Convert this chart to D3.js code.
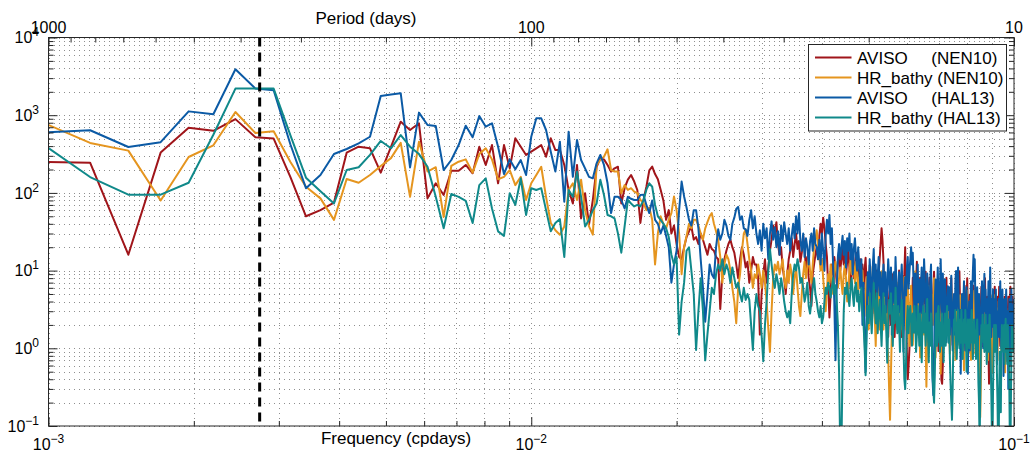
<!DOCTYPE html>
<html>
<head>
<meta charset="utf-8">
<script src="https://cdn.jsdelivr.net/npm/d3@7"></script>
<style>
  body { margin: 0; background: #fff; }
  svg { display: block; font-family: "Liberation Sans", Arial, Helvetica, sans-serif; }
</style>
</head>
<body>
<svg id="chart" width="1032" height="454"></svg>
<script>
// Frequency grid of the spectra: bin k has frequency k / recordDays (cycles per day)
const recordDays = 4100;
const firstBin = 4;

// Power spectral density, one value per frequency bin (k = 4 ... 410)
const avisoNEN10 = [
  250, 245, 16, 330, 690, 630, 890, 520, 500, 160, 50, 60, 75, 329, 393, 375, 182, 390, 824,
  645, 787, 85, 133, 94, 193, 193, 229, 179, 393, 229, 413, 133, 413, 207, 505, 393,
  308, 339, 375, 413, 292, 505, 356, 356, 229, 109, 73, 229, 47, 99, 39, 81, 217, 279, 270, 229, 188, 207, 217, 73, 115, 148, 170, 140, 109, 41,
  80, 120, 195, 218, 175, 150, 110, 80, 45, 60, 30, 38, 22, 15, 14, 20, 27, 32, 37, 25,
  27, 22, 30, 25, 20, 16, 22, 19, 18, 15, 14, 3.2, 9, 14, 18, 22, 25, 20, 17, 12, 8, 14, 20, 16, 11, 13, 7, 10, 15, 12,
  12, 8, 1.5, 5, 9, 14, 7, 11, 18, 25, 38, 30, 42, 22, 16, 20, 11, 8, 5, 9, 14, 18, 26, 15, 22, 30, 19, 24, 13, 17, 28, 20, 10, 15, 8, 6, 3.5, 9, 12, 16,
  20, 14, 28, 40, 30, 48, 35, 22, 15, 6, 2.5, 5, 12, 9, 15, 11, 7, 13, 18, 10, 14, 20, 12, 16, 9, 13, 19, 11, 6, 10, 15, 8, 12, 17, 10, 7, 11, 14, 9, 12,
  5.5, 10, 14.6, 6.6, 2.8, 5.5, 11.7, 4.5, 2, 3.6, 7.7, 2.8, 5.5, 10, 4.5, 9, 14, 22, 35, 24, 13, 4.5, 7.7, 2.8, 5.5, 1.4, 3.6, 6.6, 2, 4.5, 9, 2.8, 1.4, 3.6, 6.6, 2, 4.5, 10, 5.5, 2.8, 1.4, 3.6, 7.7, 9, 20, 4.5, 0.85, 0.4, 0.6, 1,
  2, 5.3, 3, 8.1, 4, 1.6, 3, 6.6, 13, 5.3, 2, 4, 8.1, 3, 1.25, 4, 6.6, 2.5, 5.3, 9.7, 3, 1.25, 2.5, 5.3, 8.1, 3, 1.6, 4, 2, 5.3, 9.7, 4, 2, 3.5, 6.6, 2, 0.92, 3, 5.3, 2, 0.39, 0.35, 0.63, 3, 5.3, 2, 4, 8.1, 3, 2,
  2.5, 4.9, 1.5, 3.6, 8, 2.5, 1.1, 2.5, 4.9, 2, 3.6, 6.4, 2.5, 1.1, 2.5, 4.9, 9.8, 3.6, 1.5, 3, 4.9, 1.5, 0.76, 2.5, 6.4, 2.5, 1.5, 3.6, 8, 2.5, 1.1, 2.5, 4.9, 1.5, 3.6, 0.76, 1.5, 3.6, 6.4, 2.5, 1.5, 4.9, 2.5, 1.1, 2.5, 4.9, 1.5, 3.6, 2, 0.76,
  3.2, 6.2, 2, 1.07, 3.2, 4.6, 2, 8, 3.2, 1.5, 2.6, 4.6, 2, 0.9, 0.35, 0.4, 0.68, 2, 3.9, 2, 4.6, 2.6, 1.07, 3.2, 6.2, 2, 1.5, 3.2, 2, 4.6, 1.5, 2.6, 6.2, 2, 1.07, 3.2, 4.6, 1.5, 2.6, 1.07, 3.2, 2, 4.6, 1.5, 0.68, 2, 3.2, 1.07, 2.6, 4.6, 2, 1.07, 3.2, 6.2, 2, 1.07, 3.2, 4.6, 2, 3.2, 4
];

const hrBathyNEN10 = [
  800, 440, 350, 80, 290, 410, 1100, 590, 620, 250, 120, 85, 45, 151, 135, 170, 222, 280, 440,
  89, 456, 188, 214, 49, 222, 252, 270, 182, 316, 375, 270, 150, 161, 197, 126, 161,
  81, 133, 170, 217, 89, 41, 33, 29, 37, 109, 133, 81, 148, 60, 37, 29, 229, 265, 292, 364, 197, 188, 188, 99, 126, 109, 115, 104, 99, 81,
  75, 60, 65, 45, 12, 30, 50, 40, 35, 45, 55, 90, 60, 30, 9, 20, 28, 40, 35, 45,
  45, 38, 30, 25, 35, 42, 50, 55, 40, 32, 25, 15, 7, 12, 16, 14, 10, 6, 4, 2.1, 6, 9, 18, 30, 34, 22, 14, 10, 6, 9,
  8, 12, 9, 6, 10, 7, 4, 1.8, 0.9, 3, 8, 12, 10, 13, 9, 11, 14, 8, 6, 10, 7, 12, 9, 5, 8, 11, 6, 3.5, 2.6, 5, 9, 13, 8, 11, 16, 10, 7, 12, 20, 25,
  33, 22, 15, 10, 14, 8, 5, 3, 6, 9, 7, 12, 8, 5, 10, 13, 9, 6, 8, 11, 7, 5, 9, 12, 8, 4, 6, 10, 14, 9, 16, 11, 7, 13, 9, 5, 8, 11, 7, 10,
  5.7, 2.6, 4.5, 8.3, 3.5, 1.75, 4.5, 7, 2.6, 11.3, 5.7, 2.6, 1.07, 3.5, 7, 4.5, 1.75, 5.7, 9.8, 3.5, 1.75, 4.5, 2.6, 5.7, 1.07, 0.8, 0.3, 0.12, 0.5, 1.75, 5.7, 3.5, 8.3, 2.6, 4.5, 1.75, 7, 3.5, 1.4, 2.6, 5.7, 1.75, 3.5, 8.3, 4.5, 1.75, 3.5, 7, 2.6, 1.07,
  3.6, 6.4, 2.5, 1.1, 2.5, 4.9, 9.8, 3.6, 1.5, 3, 6.4, 2.5, 0.76, 2, 3.6, 8, 3, 1.5, 3.6, 1.1, 0.32, 1.5, 3.6, 6.4, 2.5, 1.1, 2.5, 4.9, 2, 3.6, 8, 2.5, 0.76, 2, 4.2, 1.5, 3, 6.4, 2.5, 0.47, 1.5, 3.6, 2, 4.9, 2.5, 1.1, 2, 3.6, 1.5, 2.5,
  4, 1.7, 0.85, 2.2, 5.5, 2.8, 1.24, 2.2, 4, 1.7, 0.71, 1.7, 3.4, 5.5, 2.2, 1.24, 2.8, 4.8, 1.7, 0.85, 2.2, 4, 1.7, 0.52, 1.7, 3.4, 1.24, 2.2, 5.5, 1.7, 0.85, 2.8, 4, 1.7, 0.71, 1.7, 2.8, 1.24, 3.4, 5.5, 2.2, 0.85, 1.7, 3.4, 1.24, 2.2, 4, 0.85, 0.4, 0.13,
  0.36, 1.6, 3.3, 2.1, 1.1, 2.7, 4.8, 2.1, 1.1, 2.1, 4, 1.6, 0.7, 2.1, 3.3, 1.6, 2.7, 4.8, 2.1, 1.1, 0.49, 1.6, 2.7, 4.8, 2.1, 1.1, 2.1, 4, 1.6, 0.7, 2.1, 3.3, 1.6, 2.7, 4.8, 2.1, 0.93, 1.6, 3.3, 2.1, 1.1, 2.7, 1.6, 0.49, 1.6, 3.3, 2.1, 1.1, 2.7, 1.6, 0.7, 2.1, 3.3, 1.6, 0.93, 2.1, 1.1, 2.7, 1.6, 1.1, 1.4
];

const avisoHAL13 = [
  600, 640, 390, 450, 1120, 1030, 3900, 2200, 2100, 420, 115, 170, 317, 367, 435, 528, 1768, 1850, 1914,
  213, 1079, 748, 726, 197, 265, 413, 733, 520, 977, 711, 787, 393, 175, 270, 201, 265,
  170, 528, 912, 912, 645, 339, 188, 456, 77, 614, 161, 480, 265, 207, 161, 154, 240, 308, 229, 133, 55, 89, 89, 81, 63, 89, 84, 81, 81, 94,
  95, 70, 55, 80, 45, 40, 30, 38, 28, 20, 7, 12, 18, 60, 140, 90, 65, 45, 38, 60,
  60, 35, 14, 6, 2.2, 5, 12, 9, 8, 20, 34, 25, 30, 45, 38, 28, 25, 40, 48, 62, 66, 45, 50, 35, 34, 28, 45, 60, 35, 50,
  30, 22, 33, 18, 40, 26, 35, 14, 30, 43, 25, 36, 20, 32, 16, 38, 24, 42, 30, 22, 35, 18, 28, 40, 26, 50, 30, 55, 24, 18, 30, 15, 26, 20, 12, 24, 30, 18, 35, 22,
  20, 14, 25, 12, 30, 18, 10, 28, 45, 30, 52, 22, 35, 12, 4, 0.7, 6, 15, 22, 14, 20, 28, 16, 24, 11, 26, 18, 30, 14, 22, 9, 19, 26, 15, 10, 20, 12, 6, 14, 2,
  7, 1.5, 0.5, 2.2, 9.5, 4.8, 14, 7, 2.9, 11, 19, 5.9, 12, 3.8, 8.2, 15, 4.8, 9.5, 2.2, 7, 12, 4.8, 9.5, 2.9, 5.9, 14, 8.2, 3.8, 11, 1.5, 5.9, 9.5, 3.8, 15, 7, 2.2, 4.8, 9.5, 2.9, 7, 12, 5.9, 0.9, 3.8, 8.2, 4.8, 11, 15, 5.9, 9.5,
  14, 20, 12, 17, 6.3, 2.8, 9.2, 1.2, 5, 12, 3.9, 7.7, 1.9, 6.3, 11, 2.8, 5, 14, 7.7, 1.9, 3.9, 9.2, 6.3, 1.2, 2.8, 7.7, 12, 1.9, 0.4, 0.25, 0.6, 3.9, 7.7, 2.8, 5, 11, 3.9, 1.2, 6.3, 14, 5, 2.8, 9.2, 1.9, 5, 7.7, 2.8, 1.2, 3.9, 6.3,
  3.1, 6.1, 1.5, 4, 8.6, 2.2, 0.94, 3.1, 5, 1.5, 7.3, 9.9, 3.1, 6.1, 11, 4, 1.5, 3.1, 0.47, 2.2, 5, 1.5, 4, 7.3, 2.2, 0.94, 3.1, 6.1, 1.5, 0.47, 2.2, 4, 0.94, 3.1, 7.3, 2.2, 5, 9.9, 16, 7.3, 14, 4, 1.5, 3.1, 6.1, 0.94, 2.2, 5, 1.5, 3.1,
  1.9, 4.3, 7.3, 3, 1, 4.3, 9.1, 3, 5.7, 1.9, 1, 4.3, 3, 7.3, 1.9, 4.3, 11, 3, 1.4, 4.3, 1.9, 5.7, 3, 1, 4.3, 2.4, 5.7, 1.9, 0.62, 3, 1.9, 4.3, 1.4, 3, 7.3, 1.9, 1, 3, 5.7, 1.9, 0.44, 1.9, 4.3, 1.4, 3, 5.7, 1.9, 1, 3, 0.3, 1, 4.3, 1.9, 0.62, 3, 5.7, 1.9, 1, 3.6, 1.9, 4.3
];

const hrBathyHAL13 = [
  420, 160, 95, 95, 135, 560, 2200, 2200, 2200, 550, 157, 105, 73, 197, 214, 308, 466, 375, 556,
  393, 316, 217, 89, 35, 97, 89, 79, 41, 126, 154, 63, 32, 28, 99, 70, 154,
  52, 115, 109, 115, 60, 32, 41, 46, 15, 109, 89, 188, 89, 37, 45, 60, 73, 148, 94, 52, 50, 47, 30, 17, 37, 81, 73, 67, 70, 67,
  80, 110, 133, 120, 70, 50, 45, 40, 35, 27, 16, 12, 15, 1.5, 4, 7, 18, 20, 10, 5,
  0.95, 3, 8, 3, 0.7, 1.5, 3, 6, 5, 9, 12, 10, 14, 9, 12, 10, 7, 11, 8, 6, 7, 5, 4, 6, 4.2, 5, 4.2, 2, 0.95, 3,
  5, 3.5, 3, 1.5, 0.68, 2, 4, 10, 19, 12, 8, 6, 9, 7, 5, 8, 6, 4, 3, 2.5, 3, 2.1, 5, 9, 12, 10, 14, 11, 7, 8, 6, 4, 5, 7, 3.5, 2.8, 4, 6, 8, 5,
  4, 3, 2.5, 3.5, 2.1, 2.5, 4, 6, 5, 7, 6, 4.5, 6, 8, 5, 6.5, 4, 2, 0.5, 0.05, 0.05, 0.6, 3, 6, 5, 7, 4.5, 3.5, 6, 8, 5, 3.5, 6, 7, 4, 5.5, 3, 4.5, 6, 3,
  2.1, 1.07, 0.45, 1.56, 3.5, 2.1, 5.1, 2.8, 1.56, 3.5, 6.9, 3.5, 2.1, 5.1, 1.56, 2.8, 4.2, 2.1, 1.07, 2.8, 5.1, 2.1, 3.5, 1.56, 0.65, 2.1, 4.2, 2.8, 5.1, 2.1, 1.07, 3.5, 2.1, 6, 2.8, 1.56, 3.5, 2.1, 0.9, 2.8, 4.2, 2.1, 1.07, 0.4, 0.3, 0.65, 2.1, 3.5, 1.56, 2.8,
  3.5, 2.15, 1.08, 2.8, 1.6, 3.5, 2.15, 0.9, 1.6, 3.5, 2.15, 1.08, 2.8, 1.6, 0.66, 2.15, 3.5, 1.6, 2.8, 1.08, 2.15, 4.3, 1.6, 0.66, 2.15, 1.08, 2.8, 1.6, 0.45, 0.3, 0.2, 0.45, 1.6, 2.8, 1.08, 2.15, 3.5, 1.6, 0.9, 2.15, 1.08, 2.8, 1.6, 0.66, 1.6, 2.8, 1.08, 2.15, 3.5, 1.6,
  1.18, 2.35, 0.73, 0.35, 0.2, 0.12, 0.3, 1.18, 2.35, 1.7, 3.1, 1.18, 0.73, 1.7, 3.1, 1.7, 1, 2.35, 1.18, 3.1, 1.7, 0.73, 1.7, 2.35, 1.18, 3.1, 1.7, 0.5, 1.18, 2.35, 1.7, 1, 2.35, 1.18, 1.7, 3.1, 1.18, 0.73, 1.7, 2.35, 1.18, 1.7, 0.73, 1.7, 2.35, 1.18, 0.36, 0.2, 0.06, 0.25,
  0.9, 2, 1.4, 2.7, 1.2, 2, 0.9, 1.4, 2.7, 1.4, 0.63, 1.4, 2, 0.9, 1.65, 2.7, 1.4, 0.63, 0.25, 0.08, 0.05, 0.3, 0.9, 2, 1.4, 0.9, 2, 1.2, 0.47, 0.2, 0.06, 0.05, 0.25, 0.9, 0.2, 0.15, 0.9, 2, 1.2, 1.65, 0.9, 2, 0.63, 1.4, 2.4, 0.9, 1.4, 0.63, 2, 1.2, 0.63, 0.3, 0.06, 0.05, 0.2, 0.9, 2, 1.2, 1.65, 0.9, 1.6
];

const seriesLabels = ["AVISO     (NEN10)", "HR_bathy (NEN10)", "AVISO     (HAL13)", "HR_bathy (HAL13)"];
const seriesColors = ["#a0151a", "#e5951f", "#0b5aa5", "#10898a"];
const seriesValues = [avisoNEN10, hrBathyNEN10, avisoHAL13, hrBathyHAL13];

// Axis ticks
const freqDecades = [1e-3, 1e-2, 1e-1];
const psdDecades = [1e-1, 1e0, 1e1, 1e2, 1e3, 1e4];
const periodMajor = [1000, 100, 10];
const periodLabels = ["1000", "100", "10"];
const annualFrequency = 1 / 365.25;

const plot = { left: 48.5, right: 1014, top: 37.5, bottom: 426 };
const axisColor = "#262626";

const svg = d3.select("#chart");

const x = d3.scaleLog().domain([1e-3, 1e-1]).range([plot.left, plot.right]);
const y = d3.scaleLog().domain([1e-1, 1e4]).range([plot.bottom, plot.top]);
const xPeriod = d3.scaleLog().domain([1000, 10]).range([plot.left, plot.right]);

function minorsOf(decades) {
  const out = [];
  decades.slice(0, -1).forEach(d => {
    for (let m = 2; m <= 9; m++) out.push(+(m * d).toPrecision(6));
  });
  return out;
}
const freqMinor = minorsOf(freqDecades);
const psdMinor = minorsOf(psdDecades);
const periodMinor = [];
[100, 10].forEach(d => { for (let m = 9; m >= 2; m--) periodMinor.push(m * d); });

// dotted grid
const grid = svg.append("g").attr("stroke", "#8f8f8f").attr("stroke-width", 1)
  .attr("stroke-dasharray", "1,4").attr("shape-rendering", "crispEdges");
grid.selectAll("line.v").data(freqDecades.concat(freqMinor)).join("line")
  .attr("x1", d => Math.round(x(d)) + 0.5).attr("x2", d => Math.round(x(d)) + 0.5)
  .attr("y1", plot.top).attr("y2", plot.bottom);
grid.selectAll("line.h").data(psdDecades.concat(psdMinor)).join("line")
  .attr("y1", d => Math.round(y(d)) + 0.5).attr("y2", d => Math.round(y(d)) + 0.5)
  .attr("x1", plot.left).attr("x2", plot.right);

// spectra
svg.append("clipPath").attr("id", "plotClip").append("rect")
  .attr("x", plot.left).attr("y", plot.top)
  .attr("width", plot.right - plot.left).attr("height", plot.bottom - plot.top);

const line = d3.line().x(d => x(d.f)).y(d => y(d.v));
const dataG = svg.append("g").attr("clip-path", "url(#plotClip)");
seriesValues.forEach((vals, i) => {
  const pts = vals.map((v, j) => ({ f: (firstBin + j) / recordDays, v }));
  dataG.append("path").datum(pts)
    .attr("d", line)
    .attr("fill", "none")
    .attr("stroke", seriesColors[i])
    .attr("stroke-width", 2)
    .attr("stroke-linejoin", "round");
});

// annual period marker
svg.append("line")
  .attr("x1", x(annualFrequency)).attr("x2", x(annualFrequency))
  .attr("y1", plot.top).attr("y2", plot.bottom)
  .attr("stroke", "#000").attr("stroke-width", 3).attr("stroke-dasharray", "9,6");

// axes (ticks pointing inward)
function styleAxis(g) {
  g.select(".domain").remove();
  g.selectAll(".tick line").attr("stroke", axisColor);
  g.selectAll(".tick text").remove();
}
const bottomG = svg.append("g").attr("transform", `translate(0,${plot.bottom})`);
bottomG.append("g").call(d3.axisTop(x).tickValues(freqDecades).tickSize(9).tickSizeOuter(0)).call(styleAxis);
bottomG.append("g").call(d3.axisTop(x).tickValues(freqMinor).tickSize(5).tickSizeOuter(0)).call(styleAxis);

const topG = svg.append("g").attr("transform", `translate(0,${plot.top})`);
topG.append("g").call(d3.axisBottom(xPeriod).tickValues(periodMajor).tickSize(9).tickSizeOuter(0)).call(styleAxis);
topG.append("g").call(d3.axisBottom(xPeriod).tickValues(periodMinor).tickSize(5).tickSizeOuter(0)).call(styleAxis);

const leftG = svg.append("g").attr("transform", `translate(${plot.left},0)`);
leftG.append("g").call(d3.axisRight(y).tickValues(psdDecades).tickSize(9).tickSizeOuter(0)).call(styleAxis);
leftG.append("g").call(d3.axisRight(y).tickValues(psdMinor).tickSize(5).tickSizeOuter(0)).call(styleAxis);

const rightG = svg.append("g").attr("transform", `translate(${plot.right},0)`);
rightG.append("g").call(d3.axisLeft(y).tickValues(psdDecades).tickSize(9).tickSizeOuter(0)).call(styleAxis);
rightG.append("g").call(d3.axisLeft(y).tickValues(psdMinor).tickSize(5).tickSizeOuter(0)).call(styleAxis);

// axes box
svg.append("rect")
  .attr("x", plot.left).attr("y", plot.top)
  .attr("width", plot.right - plot.left).attr("height", plot.bottom - plot.top)
  .attr("fill", "none").attr("stroke", axisColor).attr("stroke-width", 1);

// tick labels: powers of ten
function powerLabel(sel, exponent) {
  sel.append("tspan").text("10");
  sel.append("tspan").attr("dy", -7).attr("font-size", 12).text(exponent < 0 ? "\u2212" + (-exponent) : exponent);
}
psdDecades.forEach(d => {
  const t = svg.append("text")
    .attr("x", 39).attr("y", y(d) + 5.7)
    .attr("text-anchor", "end").attr("font-size", 16).attr("fill", "#000");
  powerLabel(t, Math.round(Math.log10(d)));
});
freqDecades.forEach(d => {
  const t = svg.append("text")
    .attr("x", x(d)).attr("y", 450)
    .attr("text-anchor", "middle").attr("font-size", 16).attr("fill", "#000");
  powerLabel(t, Math.round(Math.log10(d)));
});
periodMajor.forEach((p, i) => {
  svg.append("text")
    .attr("x", xPeriod(p)).attr("y", 33)
    .attr("text-anchor", "middle").attr("font-size", 16).attr("fill", "#000")
    .text(periodLabels[i]);
});

// axis titles
svg.append("text").attr("x", 396).attr("y", 444).attr("text-anchor", "middle")
  .attr("font-size", 17).attr("fill", "#000").text("Frequency (cpdays)");
svg.append("text").attr("x", 366).attr("y", 24).attr("text-anchor", "middle")
  .attr("font-size", 17).attr("fill", "#000").text("Period (days)");

// legend
const legend = svg.append("g").attr("transform", "translate(808.5,44.5)");
legend.append("rect").attr("width", 198).attr("height", 86.5)
  .attr("fill", "#fff").attr("stroke", axisColor).attr("stroke-width", 1);
seriesLabels.forEach((label, i) => {
  const cy = 13 + i * 20;
  legend.append("line").attr("x1", 6.5).attr("x2", 43).attr("y1", cy).attr("y2", cy)
    .attr("stroke", seriesColors[i]).attr("stroke-width", 2);
  legend.append("text").attr("x", 48.5).attr("y", cy + 6)
    .attr("font-size", 17).attr("fill", "#000")
    .attr("xml:space", "preserve").style("white-space", "pre")
    .text(label);
});
</script>
</body>
</html>
